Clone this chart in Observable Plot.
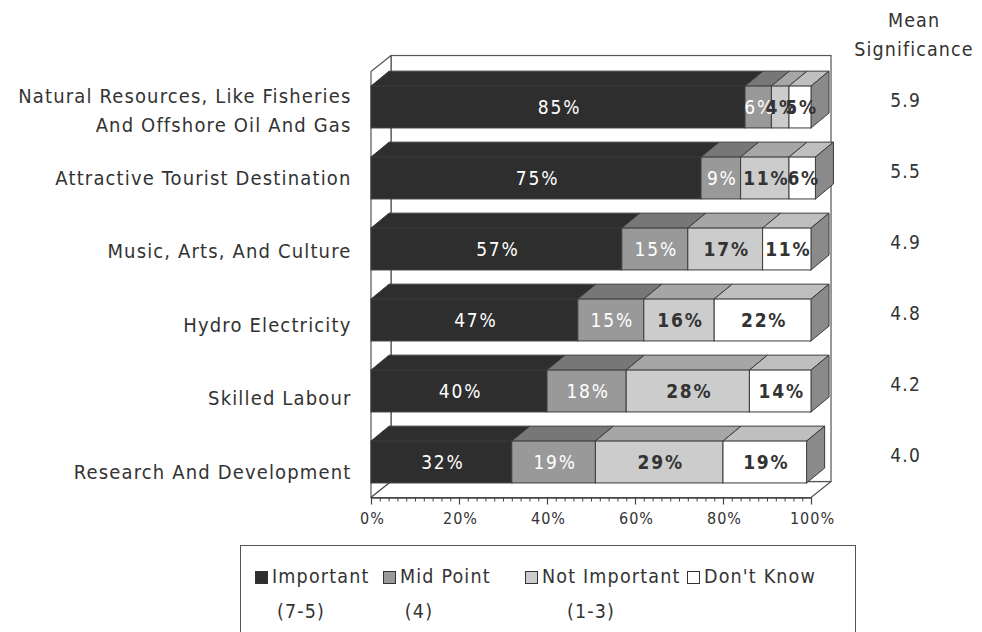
<!DOCTYPE html>
<html>
<head>
<meta charset="utf-8">
<script src="https://cdn.jsdelivr.net/npm/d3@7"></script>
<script src="https://cdn.jsdelivr.net/npm/@observablehq/plot@0.6"></script>
<style>
  html, body { margin: 0; padding: 0; background: #fff; overflow: hidden; }
  body { width: 982px; height: 632px; position: relative; font-family: "DejaVu Sans Condensed", "DejaVu Sans", sans-serif; color: #333; }
  #legend { position: absolute; left: 240px; top: 545px; width: 616px; height: 100px; border: 1.5px solid #555; box-sizing: border-box; }
  #legend span { position: absolute; font-size: 19.5px; letter-spacing: 0.06em; line-height: 20px; white-space: nowrap; color: #333; }
  #legend i { position: absolute; width: 11px; height: 11px; border: 1px solid #333; }
</style>
</head>
<body>
<div id="chart"></div>
<div id="legend"></div>
<script>
// ---- data ----
const categories = [
  "Natural Resources, Like Fisheries\nAnd Offshore Oil And Gas",
  "Attractive Tourist Destination",
  "Music, Arts, And Culture",
  "Hydro Electricity",
  "Skilled Labour",
  "Research And Development"
];
const important    = [85, 75, 57, 47, 40, 32];
const midPoint     = [6, 9, 15, 15, 18, 19];
const notImportant = [4, 11, 17, 16, 28, 29];
const dontKnow     = [5, 6, 11, 22, 14, 19];
const meanSignificance = [5.9, 5.5, 4.9, 4.8, 4.2, 4.0];
const seriesNames = ["Important", "Mid Point", "Not Important", "Don't Know"];
const seriesSub = ["(7-5)", "(4)", "(1-3)", ""];
const xTicks = [0, 20, 40, 60, 80, 100];
const xTickLabels = ["0%", "20%", "40%", "60%", "80%", "100%"];

// ---- styling ----
const frontFill = ["#2e2e2e", "#999999", "#cccccc", "#ffffff"];
const topFill   = ["#2e2e2e", "#777777", "#a6a6a6", "#bfbfbf"];
const sideFill  = "#8a8a8a";
const labelFill = ["#ffffff", "#ffffff", "#333333", "#333333"];
const labelWeight = ["normal", "normal", "bold", "bold"];
const edge = "#3a3a3a";
const FONT = "'DejaVu Sans Condensed', 'DejaVu Sans', sans-serif";

const series = [important, midPoint, notImportant, dontKnow];
const h = 0.295;          // half bar height (row units)
const bdx = 4.1, bdy = 0.21;   // bar depth
const wdx = 4.55, wdy = 0.225; // wall depth
const yTop = -0.5, yBot = 5.5;

// build segments
const segs = [];
categories.forEach((c, i) => {
  let acc = 0;
  series.forEach((s, k) => {
    const v = s[i];
    segs.push({row: i, k, v, x1: acc, x2: acc + v, id: i + "-" + k, last: k === series.length - 1});
    acc += v;
  });
});

const topPts = segs.flatMap(s => [
  {id: s.id, k: s.k, y: s.row - h, x1: s.x1, x2: s.x2},
  {id: s.id, k: s.k, y: s.row - h - bdy, x1: s.x1 + bdx, x2: s.x2 + bdx}
]);
const sidePts = segs.filter(s => s.last).flatMap(s => [
  {id: s.id, x: s.x2, y1: s.row - h, y2: s.row + h},
  {id: s.id, x: s.x2 + bdx, y1: s.row - h - bdy, y2: s.row + h - bdy}
]);

const minor = d3.range(0, 101, 2);

// letter spacing per text mark, in render order
const textSpacing = [];
function spaced(mark, px) { textSpacing.push(px); return mark; }

const plot = Plot.plot({
  width: 982,
  height: 540,
  x: {domain: [0, 100], range: [371, 811], axis: null},
  y: {domain: [0, 5], range: [107, 462], axis: null},
  color: {type: "identity"},
  style: {fontFamily: FONT, background: "white"},
  marks: [
    // back wall
    Plot.rect([0], {x1: wdx, x2: 100 + wdx, y1: yTop - wdy, y2: yBot - wdy, fill: "white", stroke: "#555", strokeWidth: 1.2}),
    // left wall
    Plot.areaY([{x: 0, y1: yTop, y2: yBot}, {x: wdx, y1: yTop - wdy, y2: yBot - wdy}],
      {x: "x", y1: "y1", y2: "y2", fill: "white", stroke: "#555", strokeWidth: 1.2}),
    // floor
    Plot.areaX([{y: yBot, x1: 0, x2: 100}, {y: yBot - wdy, x1: wdx, x2: 100 + wdx}],
      {y: "y", x1: "x1", x2: "x2", fill: "white", stroke: "#555", strokeWidth: 1.2}),
    // axis ticks
    Plot.ruleX(minor, {x: d => d, y1: yBot, y2: yBot + 4 / 71, stroke: "#444", strokeWidth: 1}),
    Plot.ruleX(xTicks, {x: d => d, y1: yBot, y2: yBot + 7 / 71, stroke: "#444", strokeWidth: 1.2}),
    Plot.ruleY([yBot], {x1: 0, x2: 100, stroke: "#444", strokeWidth: 1.5}),
    spaced(Plot.text(xTicks, {x: d => d, y: yBot, dy: 21, dx: 1, text: (d, i) => xTickLabels[i], fontSize: 16, fill: "#333"}), 1),
    // bar top faces
    Plot.areaX(topPts, {y: "y", x1: "x1", x2: "x2", z: "id", fill: d => topFill[d.k], stroke: edge, strokeWidth: 1}),
    // bar right side
    Plot.areaY(sidePts, {x: "x", y1: "y1", y2: "y2", z: "id", fill: sideFill, stroke: edge, strokeWidth: 1}),
    // bar front faces
    Plot.rect(segs, {x1: "x1", x2: "x2", y1: d => d.row - h, y2: d => d.row + h, fill: d => frontFill[d.k], stroke: edge, strokeWidth: 1}),
    // value labels
    ...[0, 1, 2, 3].map(k => spaced(Plot.text(segs.filter(s => s.k === k), {
      x: d => (d.x1 + d.x2) / 2, y: "row", text: d => d.v + "%", dx: 1,
      fill: labelFill[k], fontWeight: labelWeight[k], fontSize: 19
    }), 1.8)),
    // category labels
    spaced(Plot.text(categories, {x: 0, y: (d, i) => i + (i === 0 ? 1 : 2.5 * i - 5.5) / 71, dx: -20, text: d => d, textAnchor: "end",
      fontSize: 20, lineHeight: 1.45, fill: "#333"}), 1.15),
    // mean significance
    spaced(Plot.text(["Mean\nSignificance"], {x: 123.3, y: -1.06, text: d => d, fontSize: 19.5, lineHeight: 1.48, fill: "#333"}), 1.1),
    spaced(Plot.text(meanSignificance, {x: 121.4, y: (d, i) => i, dy: -7, text: d => d.toFixed(1), fontSize: 19, fill: "#333"}), 1.2)
  ]
});
d3.select(plot).selectAll('g[aria-label="text"]').each(function(d, i) {
  if (textSpacing[i] != null) this.style.letterSpacing = textSpacing[i] + "px";
});
document.getElementById("chart").appendChild(plot);

// legend
const legend = document.getElementById("legend");
const itemLeft = [14, 142, 284, 446];
const subCenter = [60, 178, 350];
seriesNames.forEach((name, k) => {
  const sw = document.createElement("i");
  sw.style.left = itemLeft[k] + "px";
  sw.style.top = "25px";
  sw.style.background = frontFill[k];
  legend.appendChild(sw);
  const t = document.createElement("span");
  t.textContent = name;
  t.style.left = (itemLeft[k] + 17) + "px";
  t.style.top = "21px";
  legend.appendChild(t);
  if (seriesSub[k]) {
    const s = document.createElement("span");
    s.textContent = seriesSub[k];
    s.style.left = subCenter[k] + "px";
    s.style.top = "56px";
    s.style.transform = "translateX(-50%)";
    legend.appendChild(s);
  }
});
</script>
</body>
</html>
